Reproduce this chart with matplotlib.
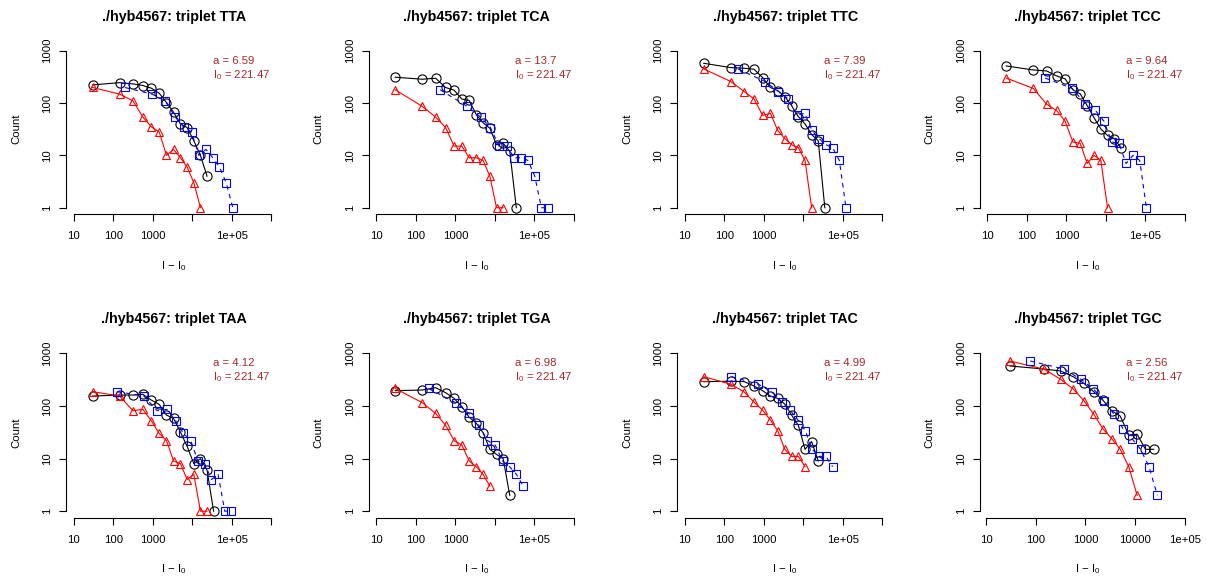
import matplotlib.pyplot as plt
from matplotlib.ticker import NullLocator

plt.rcParams['font.family'] = ['Liberation Sans', 'DejaVu Sans']
plt.rcParams['mathtext.fontset'] = 'custom'
plt.rcParams['mathtext.rm'] = 'Liberation Sans'
plt.rcParams['mathtext.it'] = 'Liberation Sans:italic'
plt.rcParams['mathtext.bf'] = 'Liberation Sans:bold'

# data
triplets = ['TTA', 'TCA', 'TTC', 'TCC', 'TAA', 'TGA', 'TAC', 'TGC']
a_values = [6.59, 13.7, 7.39, 9.64, 4.12, 6.98, 4.99, 2.56]
I0 = 221.47

# I - I0 of the bins (black and red series)
bin_x = [30, 146, 316, 564, 928, 1460, 2235, 3370, 5030, 7455, 11000,
         16190, 23770, 34850]

black_counts = [
    [222, 245, 232, 216, 192, 154, 102, 67, 40, 34, 19, 10, 4],
    [311, 285, 298, 198, 176, 119, 112, 60, 42, 33, 16, 17, 12, 1],
    [574, 475, 462, 442, 306, 198, 173, 133, 89, 55, 40, 25, 19, 1],
    [511, 428, 410, 330, 289, 179, 150, 89, 52, 32, 24, 21, 14],
    [154, 161, 161, 166, 129, 107, 67, 58, 32, 17, 8, 10, 6, 1],
    [195, 201, 222, 179, 139, 97, 61, 47, 31, 15, 12, 10, 2],
    [289, 295, 290, 239, 195, 154, 139, 109, 67, 43, 15, 21, 9],
    [574, 503, 461, 360, 269, 187, 129, 81, 64, 28, 29, 15, 15],
]

red_counts = [
    [198, 148, 110, 54, 35, 28, 10, 13, 9, 6, 3, 1],
    [179, 86, 54, 34, 15, 15, 9, 9, 8, 4, 1, 1],
    [448, 257, 166, 120, 58, 64, 30, 21, 16, 14, 8, 1],
    [300, 190, 95, 72, 45, 18, 17, 7, 10, 8, 1],
    [187, 154, 81, 86, 52, 30, 22, 9, 8, 4, 5, 1, 1],
    [215, 115, 72, 43, 22, 18, 9, 7, 5, 3],
    [360, 258, 185, 118, 83, 54, 34, 15, 11, 11, 7],
    [714, 500, 320, 210, 126, 70, 37, 24, 15, 7, 2],
]

blue_x = [
    [198, 962, 2082, 3717, 6116, 9621, 14729, 22208, 33148, 49128, 72490, 106692],
    [411, 2000, 4329, 7727, 12714, 20002, 30620, 46169, 68911, 102134, 150700, 221803],
    [222, 1079, 2335, 4168, 6858, 10789, 16517, 24904, 37172, 55092, 81290, 119644],
    [289, 1407, 3046, 5437, 8946, 14074, 21545, 32487, 48489, 71866, 106040],
    [124, 602, 1302, 2324, 3823, 6015, 9208, 13884, 20724, 30715, 45320, 66703, 97932],
    [209, 1019, 2206, 3937, 6477, 10191, 15600, 23523, 35109, 52036],
    [150, 729, 1577, 2814, 4631, 7285, 11153, 16816, 25100, 37200, 54890],
    [77, 374, 809, 1444, 2376, 3738, 5722, 8627, 12877, 19085, 28160],
]

blue_counts = [
    [198, 148, 110, 54, 35, 28, 10, 13, 9, 6, 3, 1],
    [179, 86, 54, 34, 15, 15, 9, 9, 8, 4, 1, 1],
    [448, 257, 166, 120, 58, 64, 30, 21, 16, 14, 8, 1],
    [300, 190, 95, 72, 45, 18, 17, 7, 10, 8, 1],
    [187, 154, 81, 86, 52, 30, 22, 9, 8, 4, 5, 1, 1],
    [215, 115, 72, 43, 22, 18, 9, 7, 5, 3],
    [360, 258, 185, 118, 83, 54, 34, 15, 11, 11, 7],
    [714, 500, 320, 210, 126, 70, 37, 24, 15, 7, 2],
]

# layout in pixels (R-like panels)
W, H = 1207, 579
fig = plt.figure(figsize=(W / 100, H / 100), dpi=100)

col_left = [66.1, 368.8, 677.3, 979.8]
row_top = [44.4, 347.0]
row_bot = [214.0, 517.5]
pw = 215.6
fs = 8.2
ann_col = '#A52A2A'

for i, name in enumerate(triplets):
    r, c = divmod(i, 4)
    top, bot, left = row_top[r], row_bot[r], col_left[c]
    ph = bot - top
    ax = fig.add_axes([left / W, 1 - bot / H, pw / W, ph / H])
    ax.set_xscale('log')
    ax.set_yscale('log')

    if name == 'TGC':
        ax.set_xlim(10 ** 0.869, 10 ** 5.216)
        xt = [10, 100, 1000, 10000, 100000]
        xl = ['10', '100', '1000', '10000', '1e+05']
    else:
        ax.set_xlim(10 ** 0.808, 10 ** 6.266)
        xt = [10, 100, 1000, 10000, 100000, 1000000]
        xl = ['10', '100', '1000', '', '1e+05', '']
    ax.set_ylim(10 ** -0.12, 10 ** 3.12)

    ax.plot(bin_x[:len(black_counts[i])], black_counts[i], color='black',
            marker='o', ms=6.6, mfc='none', mew=0.8, lw=0.8, clip_on=False)
    ax.plot(bin_x[:len(red_counts[i])], red_counts[i], color='red',
            marker='^', ms=6.4, mfc='none', mew=0.8, lw=0.8, clip_on=False)
    ax.plot(blue_x[i], blue_counts[i], color='blue', marker='s', ms=5.4,
            mfc='none', mew=0.8, lw=0.8, ls=(0, (4, 4)), clip_on=False)

    ax.set_xticks(xt)
    ax.set_xticklabels(xl)
    ax.set_yticks([1, 10, 100, 1000])
    ax.set_yticklabels(['1', '10', '100', '1000'])
    ax.xaxis.set_minor_locator(NullLocator())
    ax.yaxis.set_minor_locator(NullLocator())
    ax.tick_params(axis='both', direction='out', length=5, width=0.8,
                   labelsize=fs, color='black')
    ax.tick_params(axis='x', pad=7.5)
    ax.tick_params(axis='y', pad=5.2)
    plt.setp(ax.get_yticklabels(), rotation=90, va='center')

    for s in ['top', 'right']:
        ax.spines[s].set_visible(False)
    ax.spines['left'].set_bounds(1, 1000)
    ax.spines['bottom'].set_bounds(xt[0], xt[-1])
    ax.spines['left'].set_linewidth(0.8)
    ax.spines['bottom'].set_linewidth(0.8)

    ax.set_ylabel('Count', fontsize=fs, va='center')
    ax.yaxis.set_label_coords(-50 / pw, 0.5)
    ax.set_xlabel('I \u2212 I$_0$', fontsize=fs, va='baseline')
    ax.xaxis.set_label_coords(0.5, -55 / ph)

    ax.text(0.5, 1 + 23.5 / ph, './hyb4567: triplet ' + name,
            transform=ax.transAxes, ha='center', va='baseline',
            fontsize=10.3, fontweight='bold')

    ax.text(146.5 / pw, 1 - 19.5 / ph, 'a = %g' % a_values[i],
            transform=ax.transAxes, ha='left', va='baseline',
            fontsize=fs, color=ann_col)
    ax.text(146.5 / pw, 1 - 33.7 / ph, 'I$_0$ = %.2f' % I0,
            transform=ax.transAxes, ha='left', va='baseline',
            fontsize=fs, color=ann_col)

fig.savefig('out.png', dpi=100)
